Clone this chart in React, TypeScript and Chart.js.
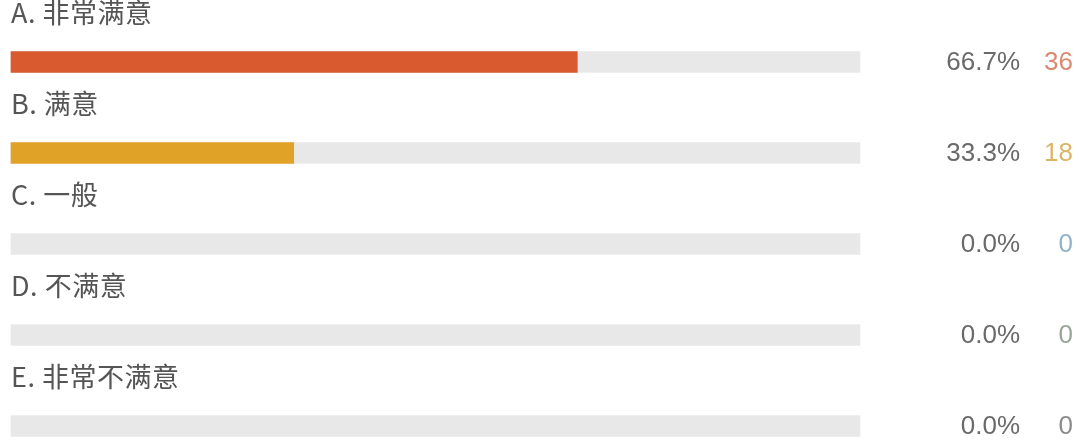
import React, { useEffect, useRef } from "react";
import { Chart, registerables } from "chart.js";

Chart.register(...registerables);

const categories = ["A. 非常满意", "B. 满意", "C. 一般", "D. 不满意", "E. 非常不满意"];
const percentages = [66.7, 33.3, 0.0, 0.0, 0.0];
const counts = [36, 18, 0, 0, 0];
const trackValues = [100, 100, 100, 100, 100];
const barColors = ["#da5a30", "#e1a228", "#8fb6cc", "#9aa89a", "#8a8a8a"];
const countColors = ["#d98a70", "#dbb466", "#8fb3c8", "#9aa59a", "#8c8c8c"];

const labelPlugin = {
  id: "labelPlugin",
  afterDatasetsDraw(chart: any) {
    const ctx = chart.ctx;
    const meta = chart.getDatasetMeta(1);
    ctx.save();
    meta.data.forEach((bar: any, i: number) => {
      const y = bar.y;
      ctx.textBaseline = "middle";
      ctx.textAlign = "left";
      ctx.fillStyle = "#555555";
      ctx.font = '27px "Noto Sans CJK SC", "Liberation Sans", sans-serif';
      try { (ctx as any).letterSpacing = "0.5px"; } catch (e) {}
      ctx.fillText(categories[i], chart.chartArea.left, y - 49);
      try { (ctx as any).letterSpacing = "0px"; } catch (e) {}
      ctx.textAlign = "right";
      ctx.font = '26px "Liberation Sans", Arial, sans-serif';
      ctx.fillStyle = "#6a6a6a";
      ctx.fillText(percentages[i].toFixed(1) + "%", 1020, y + 1);
      ctx.fillStyle = countColors[i];
      ctx.fillText(String(counts[i]), 1073, y + 1);
    });
    ctx.restore();
  },
};

export default function App() {
  const ref = useRef<HTMLCanvasElement | null>(null);
  useEffect(() => {
    document.body.style.margin = "0";
    const chart = new Chart(ref.current as HTMLCanvasElement, {
      type: "bar",
      data: {
        labels: categories,
        datasets: [
          {
            data: trackValues,
            backgroundColor: "#e8e8e8",
            barThickness: 21,
            grouped: false,
            order: 2,
            clip: false,
          } as any,
          {
            data: percentages,
            backgroundColor: percentages.map((v, i) => (v > 0 ? barColors[i] : "rgba(0,0,0,0)")),
            barThickness: 21,
            grouped: false,
            order: 1,
            clip: false,
          } as any,
        ],
      },
      options: {
        indexAxis: "y",
        animation: false,
        responsive: false,
        maintainAspectRatio: false,
        layout: { padding: { left: 11, right: 220, top: 62, bottom: 17 } },
        plugins: { legend: { display: false }, tooltip: { enabled: false } },
        scales: {
          x: { display: false, min: 0, max: 100 },
          y: { display: false, offset: false },
        },
      },
      plugins: [labelPlugin],
    });
    return () => chart.destroy();
  }, []);
  return <canvas ref={ref} width={1080} height={443} style={{ display: "block" }} />;
}
